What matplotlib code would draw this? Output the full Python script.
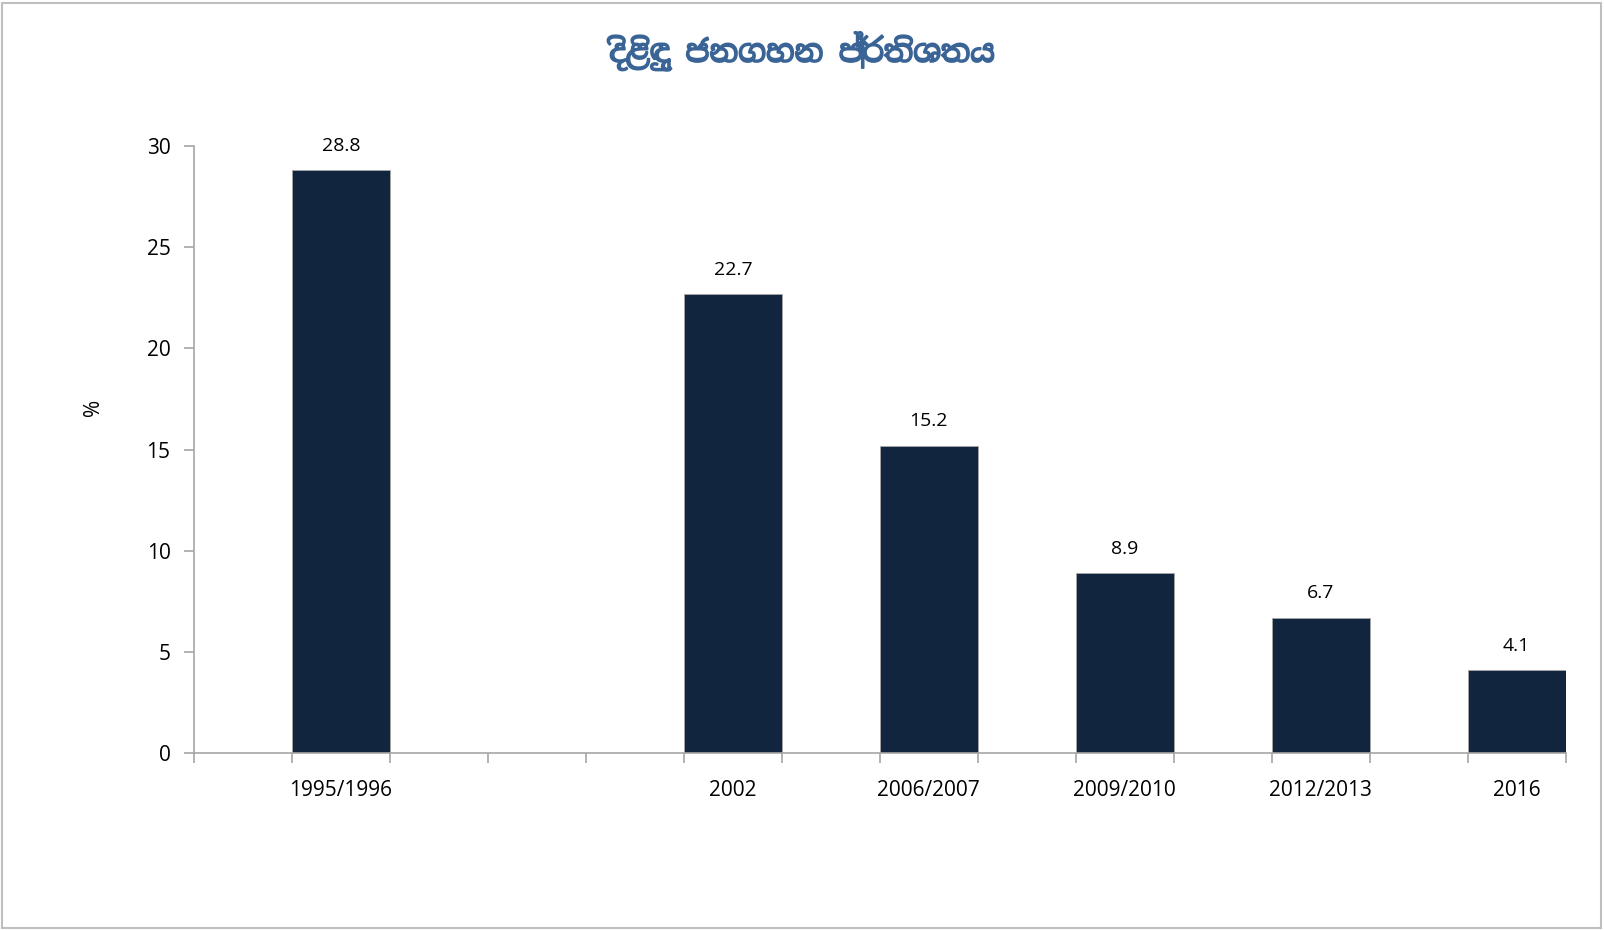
import matplotlib.pyplot as plt
from matplotlib import font_manager
from matplotlib.patches import Rectangle
import matplotlib.patheffects as pe
import numpy as np

years = ["1995/1996", "2002", "2006/2007", "2009/2010", "2012/2013", "2016"]
poverty = [28.8, 22.7, 15.2, 8.9, 6.7, 4.1]
slots = [1, 5, 7, 9, 11, 13]  # position on the Excel-style time axis
n_slots = 14

title = "දිළිඳු ජනගහන ප්‍රතිශතය"

installed = {f.name for f in font_manager.fontManager.ttflist}
sinhala = [n for n in installed if "Sinhala" in n]
title_family = sinhala + ["Noto Sans", "DejaVu Sans"]

plt.rcParams["font.family"] = ["Open Sans", "DejaVu Sans"]

bar_color = "#12253f"
axis_color = "#a6a6a6"
title_color = "#3a6496"

fig = plt.figure(figsize=(16.04, 9.30), dpi=100)
ax = fig.add_axes([0.121, 0.190, 0.855, 0.653])

x = np.array(slots) + 0.5
ax.bar(x, poverty, width=1.0, color=bar_color, edgecolor=axis_color, linewidth=0.6)

for xi, v in zip(x, poverty):
    ax.text(xi, v + 0.75, f"{v:.1f}", ha="center", va="bottom", fontsize=14, color="black")

ax.set_xlim(0, n_slots)
ax.set_ylim(0, 30)
ax.set_yticks(np.arange(0, 31, 5))
ax.set_xticks(x)
ax.set_xticklabels(years, fontsize=15)
ax.set_xticks(np.arange(0, n_slots + 1), minor=True)
ax.tick_params(axis="x", which="major", length=0, pad=19)
ax.tick_params(axis="x", which="minor", length=7, color=axis_color, width=1.2, direction="out")
ax.tick_params(axis="y", length=7, color=axis_color, width=1.2, labelsize=15, pad=10)

for side in ["top", "right"]:
    ax.spines[side].set_visible(False)
for side in ["left", "bottom"]:
    ax.spines[side].set_color(axis_color)
    ax.spines[side].set_linewidth(1.2)

ax.set_ylabel("%", fontsize=15)
ax.yaxis.set_label_coords(-0.066, 0.57)

fig.text(0.5, 0.945, title, ha="center", va="center", fontsize=22.3,
         fontweight="bold", color=title_color, family=title_family,
         path_effects=[pe.withStroke(linewidth=1.3, foreground=title_color)])

fig.patches.append(Rectangle((0.001, 0.002), 0.997, 0.995, transform=fig.transFigure,
                             fill=False, edgecolor="#bfbfbf", linewidth=1.5))

fig.savefig("out.png", dpi=100)
